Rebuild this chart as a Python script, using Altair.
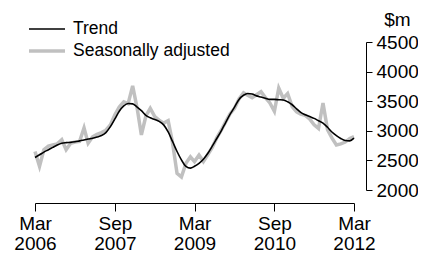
import altair as alt
import pandas as pd

# Monthly data, Mar 2006 .. Mar 2012 ($m)
months = pd.date_range("2006-03-01", periods=73, freq="MS").strftime("%Y-%m-%d").tolist()

trend = [2550, 2595, 2640, 2680, 2720, 2760, 2790, 2800, 2805, 2815, 2830, 2845, 2860, 2875,
         2895, 2920, 2970, 3070, 3200, 3330, 3420, 3460, 3455, 3400, 3340, 3260, 3220, 3190,
         3160, 3100, 2980, 2820, 2650, 2510, 2400, 2370, 2400, 2450, 2520, 2620, 2740, 2870,
         3000, 3140, 3280, 3400, 3530, 3600, 3630, 3620, 3590, 3570, 3550, 3530, 3530, 3525,
         3520, 3490, 3440, 3370, 3310, 3270, 3240, 3210, 3170, 3130, 3060, 2980, 2920, 2870,
         2835, 2830, 2875]

seasonally_adjusted = [2650, 2400, 2680, 2740, 2760, 2780, 2850, 2680, 2790, 2810, 2820, 3050,
                       2790, 2900, 2940, 2970, 3010, 3100, 3270, 3400, 3490, 3460, 3760, 3380,
                       2930, 3250, 3380, 3240, 3180, 3130, 3170, 2800, 2280, 2220, 2450, 2560,
                       2480, 2590, 2480, 2600, 2720, 2880, 3010, 3150, 3290, 3380, 3540, 3640,
                       3600, 3560, 3610, 3660, 3560, 3470, 3330, 3720, 3550, 3630, 3410, 3320,
                       3280, 3260, 3200, 3100, 3040, 3470, 3020, 2880, 2760, 2780, 2810, 2870,
                       2900]

series_names = ["Trend", "Seasonally adjusted"]
series_colors = ["#000000", "#c0c0c0"]
series_widths = [1.6, 3.5]

x_tick_dates = ["2006-03-01", "2007-09-01", "2009-03-01", "2010-09-01", "2012-03-01"]
y_ticks = [2000, 2500, 3000, 3500, 4000, 4500]

df = pd.DataFrame({
    "date": months * 2,
    "value": trend + seasonally_adjusted,
    "series": ["Trend"] * len(trend) + ["Seasonally adjusted"] * len(seasonally_adjusted),
})

x_ticks_ms = [int(pd.Timestamp(d, tz="UTC").timestamp() * 1000) for d in x_tick_dates]

FONT = "Liberation Sans"

x_enc = alt.X(
    "date:T",
    scale=alt.Scale(type="utc", domain=[x_ticks_ms[0], x_ticks_ms[-1]], nice=False),
    axis=alt.Axis(
        values=x_ticks_ms,
        labelExpr="[utcFormat(datum.value, '%b'), utcFormat(datum.value, '%Y')]",
        title=None, grid=False, offset=13, tickSize=8, domainColor="black",
        tickColor="black", labelColor="black", labelFont=FONT, labelFontSize=19,
        labelLineHeight=20, labelPadding=3, labelFlush=False, labelOverlap=False,
        labelBound=False,
    ),
)
y_enc = alt.Y(
    "value:Q",
    scale=alt.Scale(domain=[2000, 4500], nice=False, zero=False),
    axis=alt.Axis(
        orient="right", values=y_ticks, format="d", title="$m", titleAngle=0,
        titleX=31, titleY=-23,
        titleAlign="center", titleBaseline="middle", titleFont=FONT, titleFontSize=19,
        titleFontWeight="normal", titleColor="black",
        grid=False, offset=12, tickSize=6, domainColor="black", tickColor="black",
        labelColor="black", labelFont=FONT, labelFontSize=19, labelPadding=4,
        labelFlush=False, labelOverlap=False, labelBound=False,
    ),
)
color_enc = alt.Color(
    "series:N",
    scale=alt.Scale(domain=series_names, range=series_colors),
    legend=alt.Legend(
        title=None, orient="none", legendX=1, legendY=-23, symbolType="M-2,0H2",
        symbolSize=324, rowPadding=2, labelFont=FONT, labelFontSize=17.5,
        labelColor="black", labelOffset=15, padding=0, labelLimit=400,
    ),
)
width_enc = alt.StrokeWidth(
    "series:N",
    scale=alt.Scale(domain=series_names, range=series_widths),
    legend=None,
)

sa_layer = alt.Chart(df).mark_line(interpolate="linear").encode(
    x=x_enc, y=y_enc, color=color_enc, strokeWidth=width_enc
).transform_filter(alt.datum.series == "Seasonally adjusted")

trend_layer = alt.Chart(df).mark_line(interpolate="monotone").encode(
    x=x_enc, y=y_enc, color=color_enc, strokeWidth=width_enc
).transform_filter(alt.datum.series == "Trend")

chart = alt.layer(sa_layer, trend_layer).properties(
    width=319, height=148,
    autosize=alt.AutoSizeParams(type="none"),
    padding={"left": 27, "top": 34, "right": 64, "bottom": 69},
).configure(background="white").configure_view(strokeWidth=0, stroke=None)

chart.save("out.html", embed_options={"renderer": "svg", "actions": False})
